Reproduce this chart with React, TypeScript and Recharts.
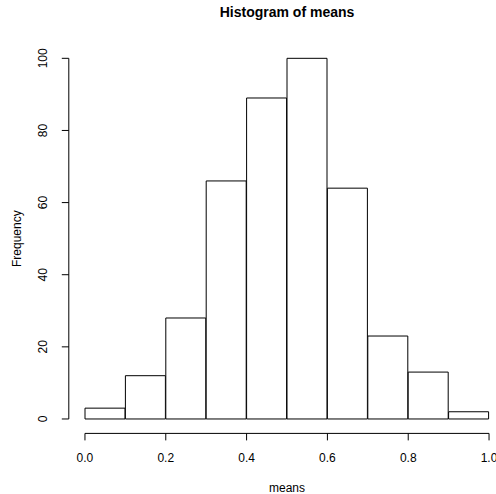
import {
  ComposedChart,
  Bar,
  XAxis,
  YAxis,
  ReferenceLine,
  Customized,
} from "recharts";

// histogram of means: bins of width 0.1 from 0 to 1
const BIN_STARTS = [0, 0.1, 0.2, 0.3, 0.4, 0.5, 0.6, 0.7, 0.8, 0.9];
const COUNTS = [3, 12, 28, 66, 89, 100, 64, 23, 13, 2];
const X_TICKS = [0, 0.2, 0.4, 0.6, 0.8, 1];
const Y_TICKS = [0, 20, 40, 60, 80, 100];

const FONT = '"Liberation Sans", Arial, Helvetica, sans-serif';

const data = BIN_STARTS.map((start, i) => ({
  bin: start.toFixed(1),
  mid: start + 0.05,
  count: COUNTS[i],
}));

function XTick(props: any) {
  const { x, payload } = props;
  return (
    <text x={x} y={462} textAnchor="middle" fontSize={12} fill="#000" fontFamily={FONT}>
      {Number(payload.value).toFixed(1)}
    </text>
  );
}

function YTick(props: any) {
  const { y, payload } = props;
  const bx = 47;
  return (
    <text
      x={bx}
      y={y}
      transform={`rotate(-90 ${bx} ${y})`}
      textAnchor="middle"
      fontSize={12}
      fill="#000"
      fontFamily={FONT}
    >
      {payload.value}
    </text>
  );
}

function Titles() {
  return (
    <g fontFamily={FONT} fill="#000">
      <text x={287} y={17} textAnchor="middle" fontSize={14} fontWeight="bold">
        Histogram of means
      </text>
      <text x={287} y={492} textAnchor="middle" fontSize={12}>
        means
      </text>
      <text
        x={21}
        y={238.7}
        transform="rotate(-90 21 238.7)"
        textAnchor="middle"
        fontSize={12}
      >
        Frequency
      </text>
    </g>
  );
}

export default function App() {
  return (
    <div
      style={{
        position: "absolute",
        left: 0,
        top: 0,
        width: 496,
        height: 494,
        overflow: "hidden",
        background: "#fff",
      }}
    >
      <ComposedChart
        width={520}
        height={494}
        data={data}
        barCategoryGap={0}
        margin={{ top: 43.9, right: 14.8, bottom: 30.6, left: 8.8 }}
      >
        <XAxis
          xAxisId="bins"
          dataKey="bin"
          orientation="top"
          hide
          padding={{ left: 16.2, right: 16.2 }}
        />
        <XAxis
          xAxisId="num"
          dataKey="mid"
          type="number"
          domain={[-0.04, 1.04]}
          allowDataOverflow
          ticks={X_TICKS}
          height={30}
          axisLine={false}
          tickSize={7}
          tickLine={{ stroke: "#000" }}
          tick={<XTick />}
          interval={0}
        />
        <YAxis
          type="number"
          domain={[-4, 104]}
          allowDataOverflow
          ticks={Y_TICKS}
          width={60}
          axisLine={false}
          tickSize={7}
          tickLine={{ stroke: "#000" }}
          tick={<YTick />}
          interval={0}
        />
        <Bar
          xAxisId="bins"
          dataKey="count"
          fill="#fff"
          stroke="#000"
          strokeWidth={1}
          isAnimationActive={false}
        />
        <ReferenceLine
          xAxisId="num"
          segment={[
            { x: 0, y: -4 },
            { x: 1, y: -4 },
          ]}
          stroke="#000"
          ifOverflow="visible"
        />
        <ReferenceLine
          xAxisId="num"
          segment={[
            { x: -0.04, y: 0 },
            { x: -0.04, y: 100 },
          ]}
          stroke="#000"
          ifOverflow="visible"
        />
        <Customized component={Titles} />
      </ComposedChart>
    </div>
  );
}
